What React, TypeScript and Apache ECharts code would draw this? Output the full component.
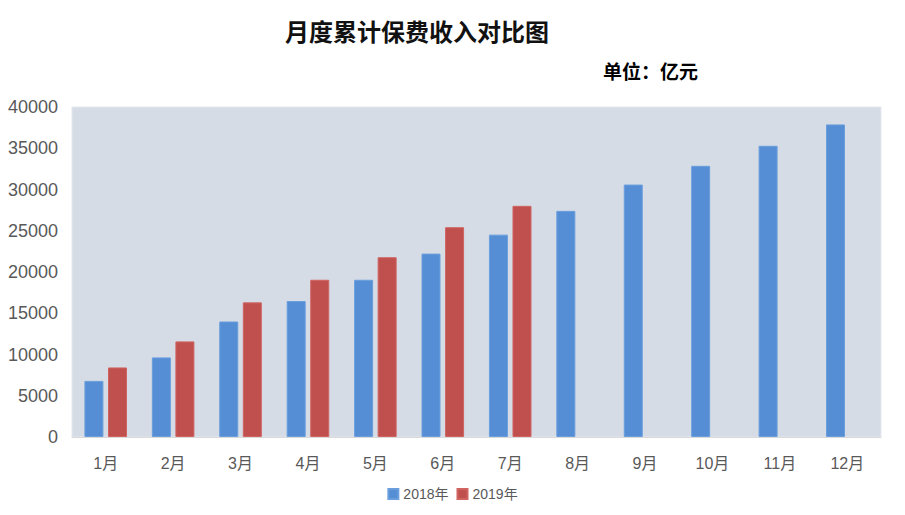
import React, { useEffect, useRef } from "react";
import * as echarts from "echarts";

const months = ["1月", "2月", "3月", "4月", "5月", "6月", "7月", "8月", "9月", "10月", "11月", "12月"];
const values2018 = [6800, 9650, 14000, 16480, 19060, 22230, 24530, 27410, 30600, 32870, 35300, 37890];
const values2019: (number | null)[] = [8430, 11590, 16320, 19060, 21790, 25430, 28020, null, null, null, null, null];
const seriesNames = ["2018年", "2019年"];
const titleText = "月度累计保费收入对比图";
const unitText = "单位：亿元";

export default function App() {
  const ref = useRef<HTMLDivElement>(null);
  useEffect(() => {
    if (!ref.current) return;
    const chart = echarts.init(ref.current, null, { renderer: "svg" });
    const labelFont = "'Liberation Sans', 'Noto Sans CJK SC', sans-serif";
    chart.setOption({
      animation: false,
      backgroundColor: "#ffffff",
      title: [
        {
          text: titleText,
          left: 280,
          top: 13,
          textStyle: { fontSize: 24, fontWeight: "bold", color: "#111", fontFamily: "'Noto Sans CJK SC', sans-serif" },
        },
        {
          text: unitText,
          left: 598,
          top: 56,
          textStyle: { fontSize: 19, fontWeight: "bold", color: "#000", fontFamily: "'Noto Sans CJK SC', sans-serif" },
        },
      ],
      legend: {
        bottom: 9,
        left: "center",
        itemWidth: 10,
        itemHeight: 10,
        itemGap: 8,
        icon: "rect",
        textStyle: { fontSize: 14, color: "#595959", fontFamily: labelFont },
        data: seriesNames,
      },
      grid: {
        left: 72,
        right: 24,
        top: 107,
        bottom: 78,
        show: true,
        backgroundColor: "#D6DCE5",
        borderColor: "#E3E7EE",
        borderWidth: 1,
      },
      xAxis: {
        type: "category",
        data: months,
        axisTick: { show: false },
        axisLine: { show: true, lineStyle: { color: "#D9D9D9" } },
        axisLabel: { fontSize: 16, color: "#595959", margin: 18, fontFamily: labelFont },
      },
      yAxis: {
        type: "value",
        min: 0,
        max: 40000,
        interval: 5000,
        splitLine: { show: false },
        axisLine: { show: false },
        axisTick: { show: false },
        axisLabel: {
          fontSize: 18,
          color: "#595959",
          margin: 14,
          fontFamily: labelFont,
          formatter: (v: number) => String(v),
        },
      },
      series: [
        {
          name: seriesNames[0],
          type: "bar",
          data: values2018,
          barWidth: 19,
          barGap: "24%",
          itemStyle: { color: "#558ED5", borderColor: "#6A9EDD", borderWidth: 1 },
        },
        {
          name: seriesNames[1],
          type: "bar",
          data: values2019,
          barWidth: 19,
          barGap: "24%",
          itemStyle: { color: "#C0504D", borderColor: "#CF6461", borderWidth: 1 },
        },
      ],
    });
    return () => chart.dispose();
  }, []);
  return <div ref={ref} style={{ width: 905, height: 515, position: "absolute", left: 0, top: 0 }} />;
}
